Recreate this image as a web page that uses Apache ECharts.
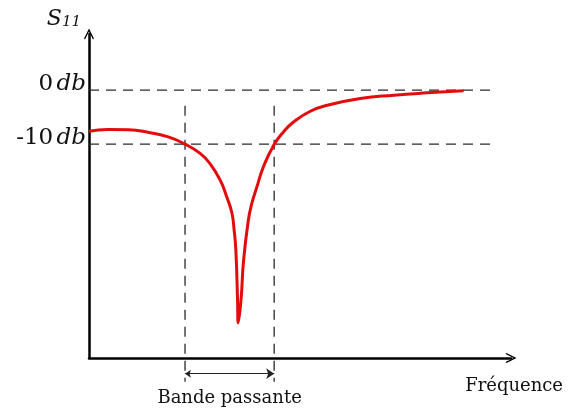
<!DOCTYPE html>
<html>
<head>
<meta charset="utf-8">
<script src="https://cdn.jsdelivr.net/npm/echarts@6/dist/echarts.min.js"></script>
<style>
  html, body { margin: 0; padding: 0; background: #fff; }
  #main { width: 571px; height: 412px; }
</style>
</head>
<body>
<div id="main"></div>
<script type="text/javascript">
    // 频率 (arbitrary units) and S11 in db
    var freq = [0, 4.4, 9.1, 13.7, 18.4, 22.3, 25.8, 28.1, 30.5, 32.0, 33.2, 33.7, 34.1, 34.5, 34.65, 35.3, 35.9, 37.0, 37.8, 39.0, 40.5, 42.9, 45.2, 47.5, 51.4, 55.3, 63.0, 70.8, 78.5, 87.0];
    var s11 = [-7.6, -7.3, -7.35, -7.8, -8.65, -10, -11.7, -13.6, -16.7, -19.8, -22.8, -25.9, -29.6, -38.9, -43.1, -38.9, -31.5, -24.1, -21.0, -17.9, -14.2, -10.2, -7.7, -5.9, -3.9, -2.8, -1.55, -0.93, -0.5, -0.13];
    var levels = [0, -10];            // 0 db, -10 db
    var band = [22.3, 43];            // band edges
    var refEnd = 94.7;                // where the dashed level lines stop
    var bandTop = -2.9, bandBottom = -54, bracketY = -52.5;

    var serif = 'DejaVu Serif';
    var chevron = 'path://M0,10 L5,0 L10,10 L9,11 L5,3 L1,11 Z';
    var dash = { color: '#2a2a2a', width: 1.3, type: [10, 7] };

    var curve = freq.map(function (f, i) { return [f, s11[i]]; });

    var dashed = [];
    levels.forEach(function (l) {
        dashed.push({
            type: 'line', data: [[0, l], [refEnd, l]], symbol: 'none', silent: true,
            lineStyle: dash, z: 1
        });
    });
    band.forEach(function (b) {
        dashed.push({
            type: 'line', data: [[b, bandTop], [b, bandBottom]], symbol: 'none', silent: true,
            clip: false, lineStyle: dash, z: 1
        });
    });

    var chart = echarts.init(document.getElementById('main'));
    chart.setOption({
        animation: false,
        title: {
            text: 'Fréquence', right: 3, top: 372,
            textStyle: { fontFamily: serif, fontSize: 18, fontWeight: 'normal', color: '#111' }
        },
        grid: { left: 89, right: 60, top: 34, bottom: 54 },
        xAxis: {
            type: 'value', min: 0, max: 98,
            splitLine: { show: false }, axisTick: { show: false }, axisLabel: { show: false },
            axisLine: {
                onZero: false, symbol: ['none', chevron], symbolSize: [10, 14],
                lineStyle: { color: '#000', width: 2.5 }
            }
        },
        yAxis: {
            type: 'value', min: -49.6, max: 10.4,
            name: '{s|S}{n|11}', nameLocation: 'end', nameGap: 4,
            nameTextStyle: {
                align: 'right', verticalAlign: 'bottom', padding: [0, 8, 0, 0],
                rich: {
                    s: { fontFamily: serif, fontStyle: 'italic', fontSize: 22, color: '#111' },
                    n: { fontFamily: serif, fontStyle: 'italic', fontSize: 15, color: '#111', verticalAlign: 'bottom' }
                }
            },
            splitLine: { show: false }, axisTick: { show: false },
            axisLine: {
                onZero: false, symbol: ['none', chevron], symbolSize: [10, 14],
                lineStyle: { color: '#000', width: 2.5 }
            },
            axisLabel: {
                customValues: levels, margin: 3, verticalAlign: 'bottom', padding: [0, 0, -6, 0],
                formatter: function (v) { return '{n|' + v + '} {i|db}'; },
                rich: {
                    n: { fontFamily: serif, fontSize: 23, color: '#111', lineHeight: 24 },
                    i: { fontFamily: serif, fontStyle: 'italic', fontSize: 23, color: '#111', lineHeight: 24 }
                }
            }
        },
        series: dashed.concat([
            {
                type: 'lines', coordinateSystem: 'cartesian2d', clip: false, silent: true,
                symbol: ['arrow', 'arrow'], symbolSize: [6, 8],
                lineStyle: { color: '#222', width: 1.2, type: 'solid', opacity: 1, curveness: 0 },
                label: {
                    show: true, position: 'insideMiddleBottom', distance: 16,
                    formatter: 'Bande passante', fontFamily: serif, fontSize: 18, color: '#111'
                },
                data: [{ coords: [[band[0], bracketY], [band[1], bracketY]] }]
            },
            {
                type: 'line', data: curve, symbol: 'none', smooth: 0.5,
                lineStyle: { color: '#e30b0b', width: 3 }, z: 3
            }
        ])
    });
</script>
</body>
</html>
